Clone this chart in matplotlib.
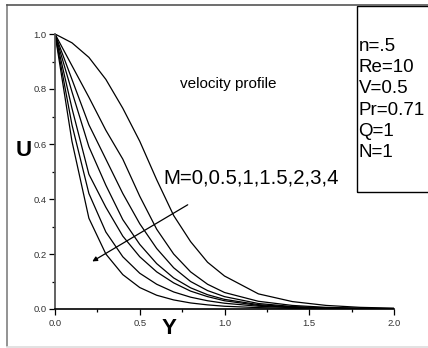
import matplotlib.pyplot as plt
from matplotlib.lines import Line2D
from matplotlib.patches import Rectangle

plt.rcParams['font.family'] = ['Liberation Sans', 'DejaVu Sans']

# data
y = [0, 0.1, 0.2, 0.3, 0.4, 0.5, 0.6, 0.7, 0.8, 0.9, 1.0, 1.2, 1.4, 1.6, 1.8, 2.0]
u_m0 = [1, 0.968, 0.915, 0.835, 0.73, 0.61, 0.47, 0.34, 0.245, 0.17, 0.12, 0.055, 0.027, 0.013, 0.006, 0.003]
u_m05 = [1, 0.885, 0.77, 0.65, 0.545, 0.41, 0.29, 0.2, 0.135, 0.09, 0.06, 0.028, 0.013, 0.006, 0.003, 0.0015]
u_m1 = [1, 0.835, 0.67, 0.545, 0.42, 0.31, 0.22, 0.15, 0.1, 0.067, 0.045, 0.02, 0.009, 0.004, 0.002, 0.001]
u_m15 = [1, 0.79, 0.59, 0.45, 0.325, 0.235, 0.165, 0.113, 0.077, 0.052, 0.035, 0.016, 0.007, 0.003, 0.0015, 0.001]
u_m2 = [1, 0.73, 0.49, 0.37, 0.265, 0.19, 0.135, 0.095, 0.065, 0.045, 0.03, 0.013, 0.006, 0.003, 0.0013, 0.0006]
u_m3 = [1, 0.67, 0.42, 0.28, 0.19, 0.13, 0.09, 0.062, 0.043, 0.03, 0.021, 0.01, 0.005, 0.002, 0.001, 0.0005]
u_m4 = [1, 0.61, 0.33, 0.2, 0.125, 0.078, 0.05, 0.033, 0.022, 0.015, 0.01, 0.005, 0.0025, 0.0012, 0.0006, 0.0003]
curves = [u_m0, u_m05, u_m1, u_m15, u_m2, u_m3, u_m4]

params = ["n=.5", "Re=10", "V=0.5", "Pr=0.71", "Q=1", "N=1"]

W, H = 428, 348
fig = plt.figure(figsize=(W / 100, H / 100), dpi=100)

def fx(px):
    return px / W

def fy(py):
    return 1 - py / H

ax = fig.add_axes([fx(55), fy(309), fx(394) - fx(55), fy(34) - fy(309)])
for c in curves:
    ax.plot(y, c, color="black", linewidth=0.9)

ax.set_xlim(0, 2.0)
ax.set_ylim(0, 1.0)
ax.set_xticks([0, 0.5, 1.0, 1.5, 2.0])
ax.set_xticks([0.25, 0.75, 1.25, 1.75], minor=True)
ax.set_yticks([0, 0.2, 0.4, 0.6, 0.8, 1.0])
ax.set_yticks([0.1, 0.3, 0.5, 0.7, 0.9], minor=True)
ax.xaxis.set_major_formatter(plt.FormatStrFormatter('%.1f'))
ax.yaxis.set_major_formatter(plt.FormatStrFormatter('%.1f'))
ax.tick_params(which='major', direction='out', length=4, width=0.9, labelsize=6.8,
               labelcolor='#333333', pad=2)
ax.tick_params(which='minor', direction='out', length=2, width=0.9)
ax.tick_params(axis='x', pad=3)
ax.spines['top'].set_visible(False)
ax.spines['right'].set_visible(False)
ax.spines['left'].set_color('#555555')
ax.spines['left'].set_linewidth(1.3)
ax.spines['bottom'].set_linewidth(1.2)
ax.patch.set_alpha(0)

ax.annotate("", xy=(0.22, 0.173), xytext=(0.783, 0.379),
            arrowprops=dict(arrowstyle='-|>', color='black', lw=0.9, mutation_scale=7,
                            shrinkA=0, shrinkB=0))

# labels and annotations
fig.text(fx(24), fy(151), "U", fontsize=16, fontweight='bold', ha='center', va='center')
fig.text(fx(169), fy(328), "Y", fontsize=16, fontweight='bold', ha='center', va='center')
fig.text(fx(180), fy(88), "velocity profile", fontsize=11, ha='left', va='baseline')
fig.text(fx(163), fy(184), "M=0,0.5,1,1.5,2,3,4", fontsize=14.7, ha='left', va='baseline')

# outer frame
fig.add_artist(Line2D([fx(7), fx(7)], [fy(5), fy(346)], color='#808080', lw=1.2))
fig.add_artist(Line2D([fx(7), 1], [fy(5), fy(5)], color='#555555', lw=1.2))
fig.add_artist(Line2D([fx(7), 1], [fy(346.5), fy(346.5)], color='#dddddd', lw=1.2))

# parameter box
fig.add_artist(Rectangle((fx(357), fy(191.5)), fx(80), fy(6) - fy(191.5),
                         fill=False, edgecolor='black', lw=1.0))
for i, p in enumerate(params):
    fig.text(fx(358.5), fy(51 + 21.2 * i), p, fontsize=13.5, ha='left', va='baseline')

fig.savefig("out.png", dpi=100)
